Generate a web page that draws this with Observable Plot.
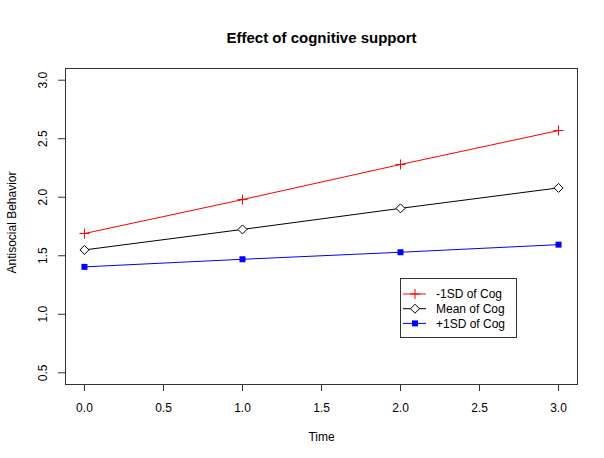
<!DOCTYPE html>
<html><head><meta charset="utf-8">
<script src="https://cdn.jsdelivr.net/npm/d3@7"></script>
<script src="https://cdn.jsdelivr.net/npm/@observablehq/plot@0.6"></script>
<style>
body{margin:0;background:#fff;font-family:"Liberation Sans",Arial,Helvetica,sans-serif;}
#wrap{position:relative;width:604px;height:458px;}
#legend{position:absolute;}
</style></head><body><div id="wrap"></div>
<script>
const times = [0, 1, 2, 3];
const lowCog = [1.69, 1.98, 2.28, 2.57];
const meanCog = [1.55, 1.725, 1.905, 2.08];
const highCog = [1.405, 1.47, 1.53, 1.595];
const seriesNames = ["-1SD of Cog", "Mean of Cog", "+1SD of Cog"];
const seriesColors = ["#ff0000", "#000000", "#0000ff"];
const xTicks = [0, 0.5, 1, 1.5, 2, 2.5, 3];
const yTicks = [0.5, 1, 1.5, 2, 2.5, 3];
const titleText = "Effect of cognitive support";
const xLabel = "Time";
const yLabel = "Antisocial Behavior";
const legendX = 2, legendY = 1.3;

const seriesValues = [lowCog, meanCog, highCog];
const rows = [];
seriesNames.forEach((s, i) => times.forEach((t, j) => rows.push({series: s, time: t, value: seriesValues[i][j]})));

const plusSym = {draw(ctx, size){const r = Math.sqrt(size/Math.PI); ctx.moveTo(-r,0); ctx.lineTo(r,0); ctx.moveTo(0,-r); ctx.lineTo(0,r);}};
const diamondSym = {draw(ctx, size){const r = Math.sqrt(size/Math.PI); ctx.moveTo(0,-r); ctx.lineTo(r,0); ctx.lineTo(0,r); ctx.lineTo(-r,0); ctx.closePath();}};
const squareSym = {draw(ctx, size){const r = Math.sqrt(size/Math.PI); ctx.rect(-r,-r,2*r,2*r);}};

const fmt = d3.format(".1f");
const frameColor = "#333";

const plot = Plot.plot({
  width: 604, height: 458,
  marginLeft: 65, marginRight: 27, marginTop: 68, marginBottom: 74,
  style: {fontFamily: '"Liberation Sans", Arial, Helvetica, sans-serif', fontSize: "12px", background: "#fff", color: "#000"},
  x: {domain: [-0.12, 3.12]},
  y: {domain: [0.4, 3.1]},
  marks: [
    Plot.frame({stroke: frameColor, strokeWidth: 1}),
    Plot.axisX({ticks: xTicks, tickSize: 7, tickPadding: 12, tickFormat: fmt, label: null, stroke: frameColor, fontSize: 12}),
    Plot.axisY({ticks: yTicks, tickSize: 7, tickFormat: () => "", label: null, stroke: frameColor}),
    Plot.text(yTicks, {y: d => d, text: d => fmt(d), frameAnchor: "left", dx: -22, rotate: -90, fontSize: 12, textAnchor: "middle", lineAnchor: "middle"}),
    Plot.text([yLabel], {frameAnchor: "left", dx: -53, dy: -4, rotate: -90, fontSize: 12, textAnchor: "middle", lineAnchor: "middle"}),
    Plot.text([xLabel], {frameAnchor: "bottom", dy: 53, fontSize: 12, textAnchor: "middle", lineAnchor: "middle"}),
    Plot.text([titleText], {frameAnchor: "top", dy: -30, fontSize: 15, fontWeight: "bold", textAnchor: "middle", lineAnchor: "middle"}),
    Plot.line(rows, {x: "time", y: "value", z: "series", stroke: d => seriesColors[seriesNames.indexOf(d.series)], strokeWidth: 1}),
    Plot.dot(rows.filter(d => d.series === seriesNames[0]), {x: "time", y: "value", symbol: plusSym, r: 5, stroke: seriesColors[0], fill: "none", strokeWidth: 1}),
    Plot.dot(rows.filter(d => d.series === seriesNames[1]), {x: "time", y: "value", symbol: diamondSym, r: 4.5, stroke: seriesColors[1], fill: "#fff", strokeWidth: 1}),
    Plot.dot(rows.filter(d => d.series === seriesNames[2]), {x: "time", y: "value", symbol: squareSym, r: 3, fill: seriesColors[2], stroke: "none"})
  ]
});
const wrap = document.getElementById("wrap");
wrap.appendChild(plot);

// legend positioned at data coordinates via the plot's scales
const sx = plot.scale("x"), sy = plot.scale("y");
const lx = sx.apply(legendX), ly = sy.apply(legendY);
const lw = 116, lh = 59;
const leg = d3.select(wrap).append("svg").attr("id", "legend")
  .attr("width", lw + 2).attr("height", lh + 2)
  .style("left", (lx - 0.5) + "px").style("top", (ly - 0.5) + "px");
leg.append("rect").attr("x", 0.5).attr("y", 0.5).attr("width", lw).attr("height", lh)
  .attr("fill", "#fff").attr("stroke", frameColor);
const syms = [
  g => g.append("path").attr("d", "M-5,0H5M0,-5V5").attr("stroke", seriesColors[0]).attr("fill", "none"),
  g => g.append("path").attr("d", "M0,-4.5L4.5,0L0,4.5L-4.5,0Z").attr("stroke", seriesColors[1]).attr("fill", "#fff"),
  g => g.append("rect").attr("x", -3).attr("y", -3).attr("width", 6).attr("height", 6).attr("fill", seriesColors[2])
];
seriesNames.forEach((s, i) => {
  const g = leg.append("g").attr("transform", `translate(0,${16 + i * 14.7})`);
  g.append("line").attr("x1", 3).attr("x2", 26).attr("stroke", seriesColors[i]).attr("stroke-width", 1);
  const sg = g.append("g").attr("transform", "translate(15,0)");
  syms[i](sg);
  g.append("text").attr("x", 36).attr("dy", "0.35em").attr("font-size", 12)
    .attr("font-family", '"Liberation Sans", Arial, sans-serif').text(s);
});
</script></body></html>
